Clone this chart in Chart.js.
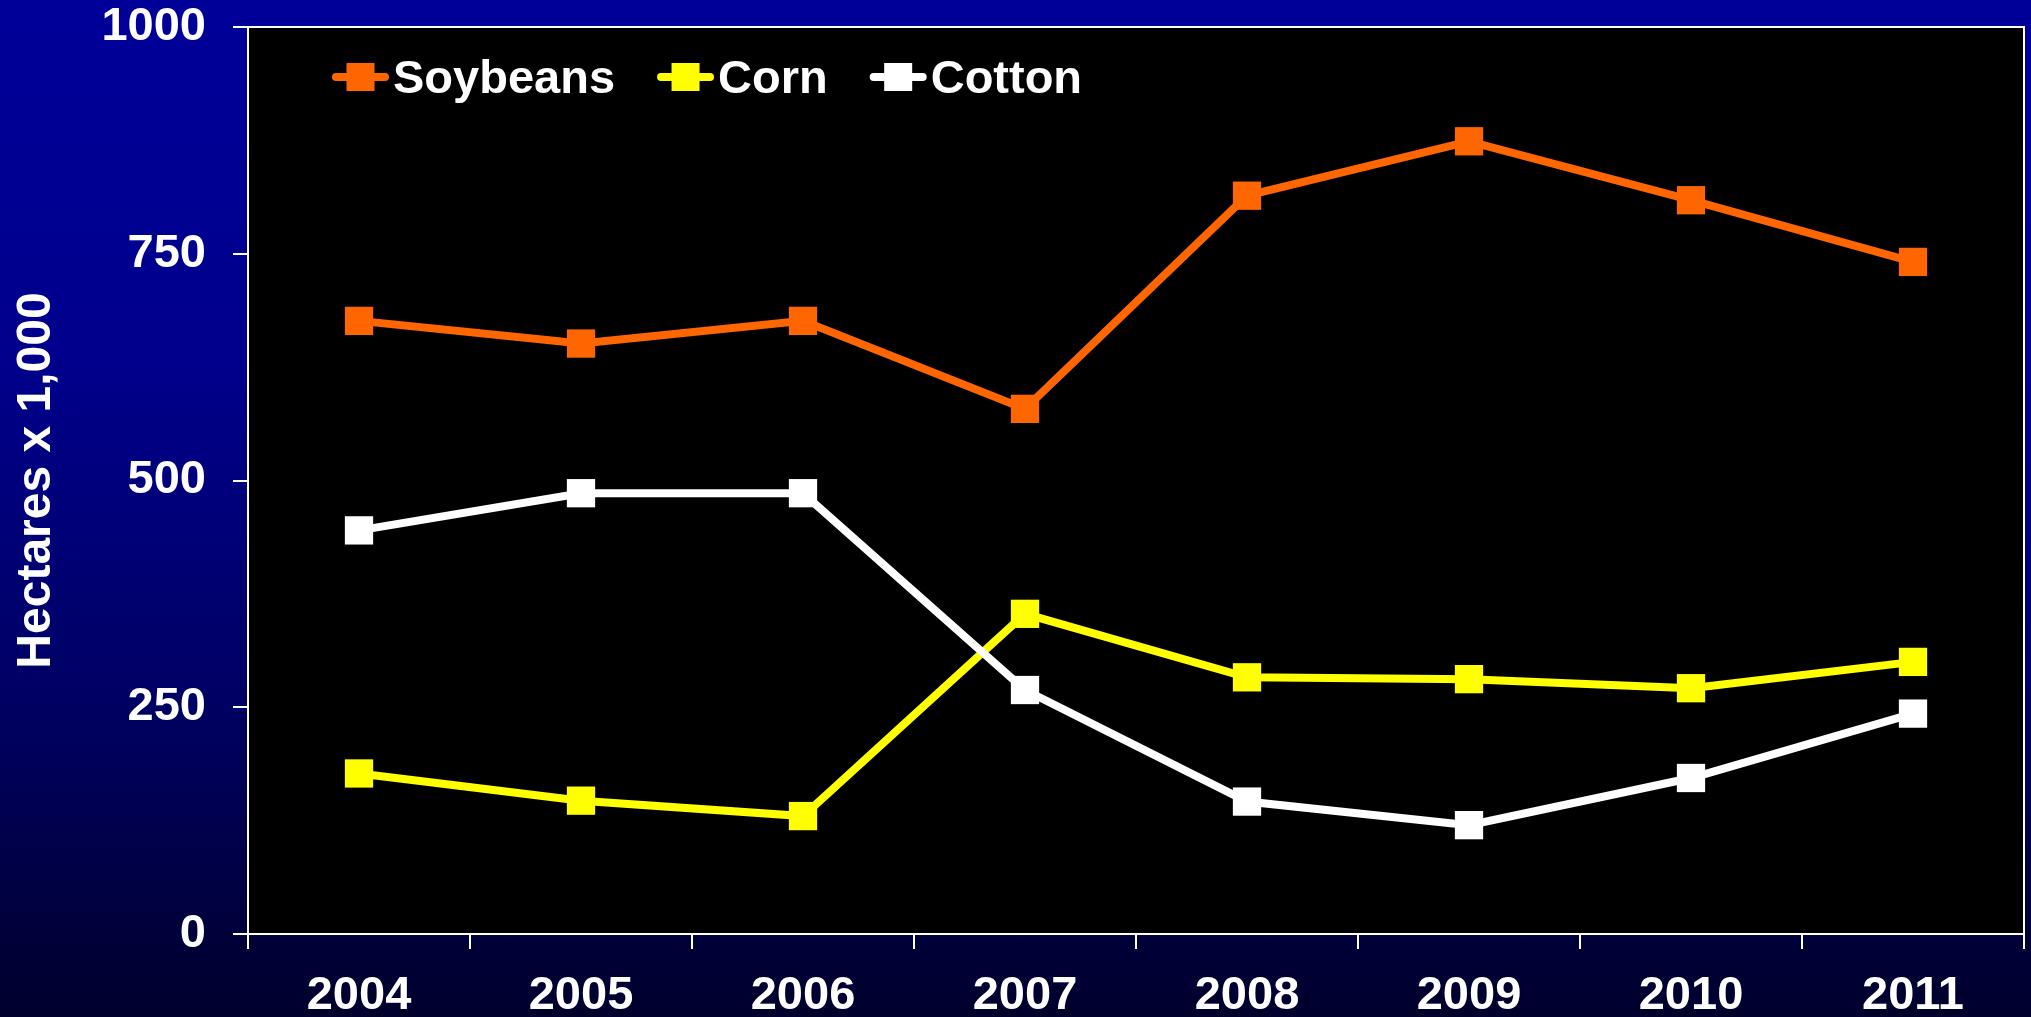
<!DOCTYPE html>
<html>
<head>
<meta charset="utf-8">
<script src="https://cdn.jsdelivr.net/npm/chart.js@4/dist/chart.umd.min.js"></script>
<style>
html,body{margin:0;padding:0;width:2031px;height:1017px;overflow:hidden;
background:linear-gradient(to bottom,#000099 0%,#00008c 35%,#000062 70%,#00002c 100%);}
#wrap{position:relative;width:2031px;height:1017px;}
canvas{display:block;}
</style>
</head>
<body>
<div id="wrap"><canvas id="c" width="2031" height="1017"></canvas></div>
<script>
// ---- data ----
const categories = ['2004', '2005', '2006', '2007', '2008', '2009', '2010', '2011'];
const soybeans = [676, 651, 676, 579, 814, 874, 809, 741];
const corn = [177, 147, 130, 353, 283, 281, 271, 300];
const cotton = [445, 486, 486, 269, 146, 120, 172, 243];
const yTicks = [0, 250, 500, 750, 1000];
const seriesNames = ['Soybeans', 'Corn', 'Cotton'];
const seriesColors = ['#FF6600', '#FFFF00', '#FFFFFF'];
const yTitle = 'Hectares x 1,000';

const FONT = '"Liberation Sans", Arial, Helvetica, sans-serif';

// keep the large point markers from reserving extra layout space
try {
  const LC = Chart.registry.getController('line');
  LC.prototype.getMaxOverflow = function () { return 0; };
} catch (e) {}

function zeroPad(s) {
  s.paddingTop = 0; s.paddingBottom = 0; s.paddingLeft = 0; s.paddingRight = 0;
}

const plotBg = {
  id: 'plotBg',
  beforeDraw(chart) {
    const {ctx, chartArea: a} = chart;
    ctx.save();
    ctx.fillStyle = '#000000';
    ctx.fillRect(a.left, a.top, a.right - a.left, a.bottom - a.top);
    ctx.restore();
  },
  beforeDatasetsDraw(chart) {
    const {ctx, chartArea: a} = chart;
    ctx.save();
    ctx.strokeStyle = '#FFFFFF';
    ctx.lineWidth = 2;
    ctx.beginPath();
    ctx.moveTo(a.left, a.top);
    ctx.lineTo(a.right, a.top);
    ctx.lineTo(a.right, a.bottom);
    ctx.stroke();
    ctx.restore();
  }
};

const customLegend = {
  id: 'customLegend',
  afterDatasetsDraw(chart) {
    const {ctx, chartArea: a} = chart;
    ctx.save();
    ctx.font = 'bold 47px ' + FONT;
    ctx.textBaseline = 'alphabetic';
    let x = a.left + 84;
    const cy = a.top + 50;
    seriesNames.forEach((name, i) => {
      const col = seriesColors[i];
      ctx.strokeStyle = col;
      ctx.lineWidth = 8;
      ctx.lineCap = 'round';
      ctx.beginPath();
      ctx.moveTo(x + 4, cy);
      ctx.lineTo(x + 53, cy);
      ctx.stroke();
      ctx.fillStyle = col;
      ctx.fillRect(x + 14.5, cy - 14, 28, 28);
      ctx.fillStyle = '#FFFFFF';
      const tx = x + 61;
      ctx.fillText(name, tx, cy + 16);
      x = tx + ctx.measureText(name).width + 42;
    });
    ctx.restore();
  }
};

const seriesData = [soybeans, corn, cotton];
const datasets = seriesNames.map((name, i) => ({
  label: name,
  data: seriesData[i],
  borderColor: seriesColors[i],
  backgroundColor: seriesColors[i],
  pointBackgroundColor: seriesColors[i],
  pointBorderColor: seriesColors[i],
  borderWidth: 8,
  pointStyle: 'rect',
  pointRadius: 20,
  pointHoverRadius: 20,
  pointBorderWidth: 0,
  tension: 0,
  clip: false,
  order: 2 - i
}));

new Chart(document.getElementById('c'), {
  type: 'line',
  data: { labels: categories, datasets },
  options: {
    responsive: false,
    animation: false,
    devicePixelRatio: 1,
    layout: { padding: { top: 27, right: 7, left: 0, bottom: 0 } },
    plugins: { legend: { display: false }, tooltip: { enabled: false } },
    scales: {
      x: {
        offset: true,
        afterFit(s) { s.height = 83; zeroPad(s); },
        grid: { offset: true, drawOnChartArea: false, drawTicks: true, tickLength: 15, color: '#FFFFFF', lineWidth: 2 },
        border: { display: true, color: '#FFFFFF', width: 2 },
        ticks: { color: '#FFFFFF', padding: 24, maxRotation: 0, font: { family: FONT, size: 47, weight: 'bold', lineHeight: 1.0 } }
      },
      y: {
        min: 0, max: 1000,
        afterFit(s) { s.width = 248; zeroPad(s); },
        afterBuildTicks(s) { s.ticks = yTicks.map(v => ({ value: v })); },
        grid: { drawOnChartArea: false, drawTicks: true, tickLength: 15, color: '#FFFFFF', lineWidth: 2 },
        border: { display: true, color: '#FFFFFF', width: 2 },
        ticks: { color: '#FFFFFF', padding: 27, callback: v => String(v), font: { family: FONT, size: 47, weight: 'bold', lineHeight: 1.0 } },
        title: { display: true, text: yTitle, color: '#FFFFFF', padding: { top: 8, bottom: 0 }, font: { family: FONT, size: 48, weight: 'bold', lineHeight: 1.2 } }
      }
    }
  },
  plugins: [plotBg, customLegend]
});
</script>
</body>
</html>
